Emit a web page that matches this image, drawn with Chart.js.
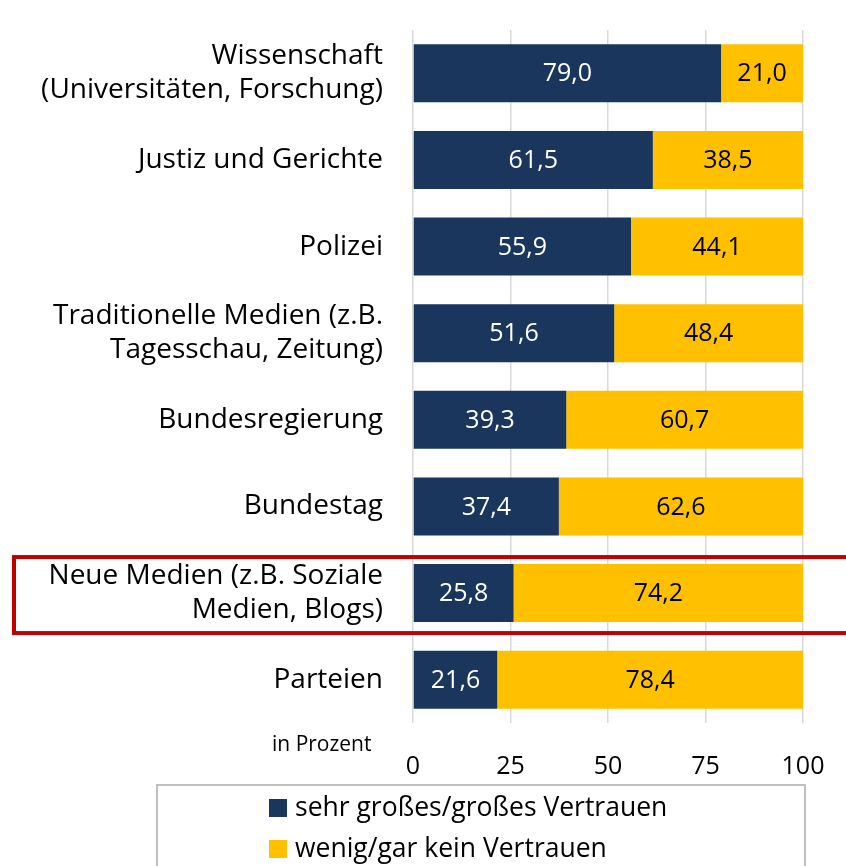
<!DOCTYPE html>
<html>
<head>
<meta charset="utf-8">
<script src="https://cdn.jsdelivr.net/npm/chart.js@4"></script>
<style>
  body { margin: 0; background: #fff; }
  #wrap { width: 846px; height: 866px; position: relative; }
</style>
</head>
<body>
<div id="wrap"><canvas id="chart"></canvas></div>
<script>
// categories (multi-line labels) and values
const categories = [
    ['Wissenschaft', '(Universitäten, Forschung)'],
    ['Justiz und Gerichte'],
    ['Polizei'],
    ['Traditionelle Medien (z.B.', 'Tagesschau, Zeitung)'],
    ['Bundesregierung'],
    ['Bundestag'],
    ['Neue Medien (z.B. Soziale', 'Medien, Blogs)'],
    ['Parteien'],
];
const highTrust = [79.0, 61.5, 55.9, 51.6, 39.3, 37.4, 25.8, 21.6];
const lowTrust = [21.0, 38.5, 44.1, 48.4, 60.7, 62.6, 74.2, 78.4];
const seriesNames = ['sehr großes/großes Vertrauen', 'wenig/gar kein Vertrauen'];
const xTicks = [0, 25, 50, 75, 100];

const FONT = '"Open Sans", Lato, sans-serif';
const NAVY = '#1a365d';
const GOLD = '#ffc000';

const fmt = v => v.toFixed(1).replace('.', ',');

// value labels centred in each bar segment
const valueLabels = {
    id: 'valueLabels',
    afterDatasetsDraw(chart) {
        const ctx = chart.ctx;
        ctx.save();
        ctx.font = '25px ' + FONT;
        ctx.textAlign = 'center';
        ctx.textBaseline = 'middle';
        chart.data.datasets.forEach((ds, i) => {
            ctx.fillStyle = i === 0 ? '#ffffff' : '#000000';
            chart.getDatasetMeta(i).data.forEach((bar, j) => {
                const p = bar.getProps(['x', 'y', 'base'], true);
                ctx.fillText(fmt(ds.data[j]), (p.x + p.base) / 2, p.y + 1);
            });
        });
        ctx.restore();
    }
};

// legend box, "in Prozent" note and red highlight frame
const extras = {
    id: 'extras',
    afterDraw(chart) {
        const ctx = chart.ctx;
        ctx.save();
        // highlight frame around "Neue Medien"
        const cy = chart.scales.y.getPixelForValue(6);
        ctx.strokeStyle = '#c00000';
        ctx.lineWidth = 4;
        ctx.strokeRect(14, cy - 36, 850, 76);

        // axis note
        ctx.fillStyle = '#000';
        ctx.font = '21px ' + FONT;
        ctx.textAlign = 'left';
        ctx.textBaseline = 'middle';
        ctx.fillText('in Prozent', 272, 745);

        // legend
        ctx.strokeStyle = '#bfbfbf';
        ctx.lineWidth = 2;
        ctx.strokeRect(157, 785, 648, 100);
        ctx.font = '26.5px ' + FONT;
        chart.data.datasets.forEach((ds, i) => {
            const ly = 808 + i * 41;
            ctx.fillStyle = ds.backgroundColor;
            ctx.fillRect(269, ly - 9, 18, 18);
            ctx.fillStyle = '#000';
            ctx.fillText(ds.label, 295, ly);
        });
        ctx.restore();
    }
};

new Chart(document.getElementById('chart'), {
    type: 'bar',
    data: {
        labels: categories,
        datasets: [
            { label: seriesNames[0], data: highTrust, backgroundColor: NAVY },
            { label: seriesNames[1], data: lowTrust, backgroundColor: GOLD },
        ],
    },
    options: {
        indexAxis: 'y',
        responsive: true,
        maintainAspectRatio: false,
        animation: false,
        layout: { padding: { top: 30, right: 43, bottom: 0, left: 0 } },
        datasets: { bar: { categoryPercentage: 1, barPercentage: 0.67 } },
        plugins: { legend: { display: false }, tooltip: { enabled: false } },
        scales: {
            x: {
                stacked: true,
                min: 0,
                max: 100,
                afterBuildTicks: axis => { axis.ticks = xTicks.map(v => ({ value: v })); },
                grid: { color: '#d9d9d9', lineWidth: 1.5, drawTicks: false },
                border: { display: false },
                ticks: { color: '#000', font: { family: FONT, size: 25 }, padding: 29 },
                afterFit: axis => {
                    axis.height = 143;
                    axis.paddingLeft = 0;
                    axis.paddingRight = 0;
                },
            },
            y: {
                stacked: true,
                grid: { display: false },
                border: { display: false },
                ticks: {
                    color: '#000',
                    font: { family: FONT, size: 28, lineHeight: 1.22 },
                    padding: 22,
                },
                afterFit: axis => {
                    axis.width = 413;
                    axis.paddingTop = 0;
                    axis.paddingBottom = 0;
                },
            },
        },
    },
    plugins: [valueLabels, extras],
});
</script>
</body>
</html>
